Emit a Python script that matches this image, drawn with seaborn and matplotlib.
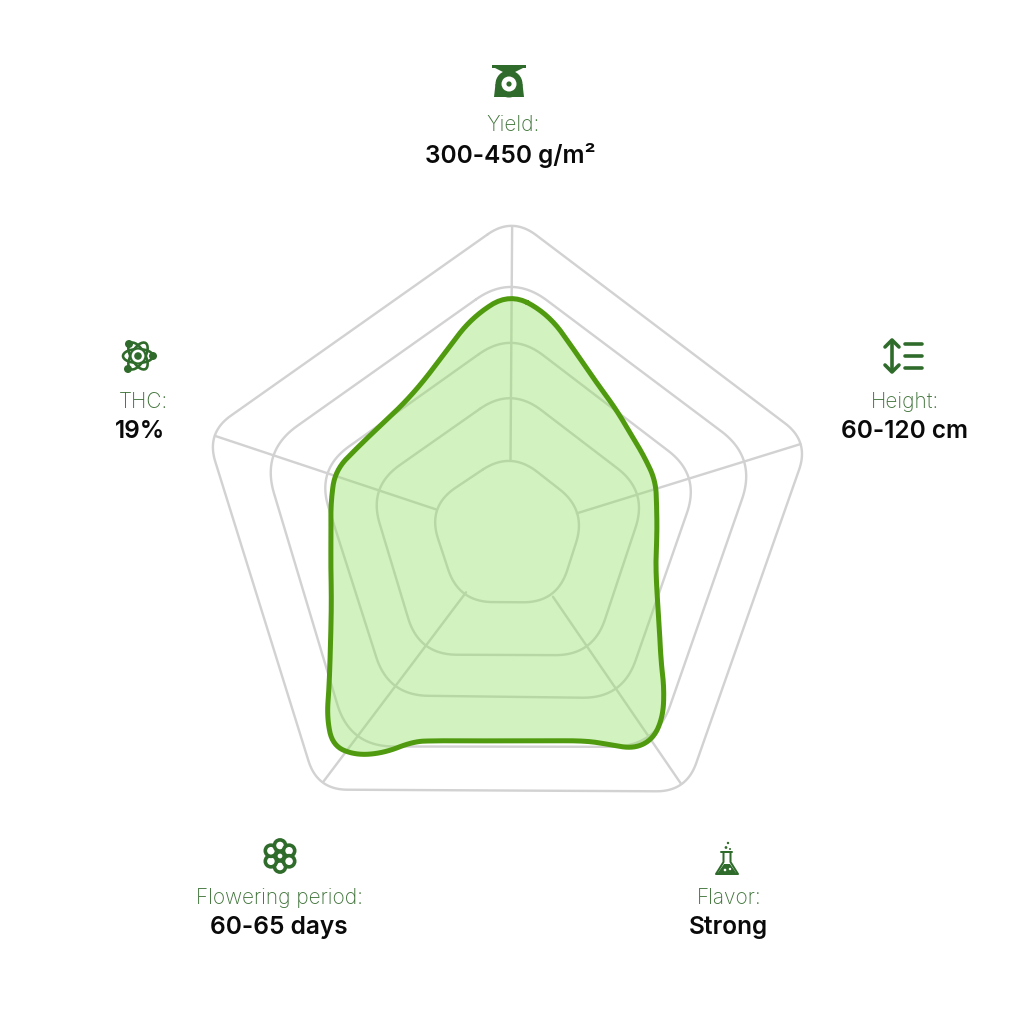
import numpy as np
import matplotlib
matplotlib.use("Agg")
import matplotlib.pyplot as plt
import seaborn as sns
from matplotlib.patches import Circle, Ellipse, Polygon, Rectangle

# axes of the radar, clockwise from the top
categories = ["Yield:", "Height:", "Flavor:", "Flowering period:", "THC:"]
values = ["300-450 g/m²", "60-120 cm", "Strong", "60-65 days", "19%"]
axis_angles = [0.4, 72.8, 145.6, 217.0, 288.4]

# ring corners per axis, outer to inner
ring_1 = [317, 313, 312, 320, 320]
ring_2 = [260, 258, 258, 266, 262]
ring_3 = [203, 199, 199, 202, 204]
ring_4 = [147, 144, 147, 151, 149]
ring_5 = [83, 80, 83, 85, 87]
spoke_inner = [73, 70, 76, 73, 78]
spoke_outer = [307, 304, 302, 310, 311]

# outline of the strain, radius read clockwise from the top
series_theta = [0, 10, 20, 30, 40, 50, 60, 70, 80, 90, 100, 110, 120, 130, 135, 140,
                145, 150, 155, 160, 170, 180, 190, 200, 205, 210, 215, 220, 225, 230,
                240, 250, 260, 270, 280, 290, 300, 310, 320, 330, 340, 350]
series_radius = [241, 223, 193, 174, 164, 157, 155, 155, 149, 147, 148, 156, 172, 197,
                 218, 238, 250, 248, 232, 220, 210, 207, 210, 220, 229, 253, 270, 276,
                 259, 236, 207, 190, 182, 179, 182, 186, 175, 169, 168, 175, 192, 220]

CX, CY = 510, 535
GRID = "#d2d2d2"
LINE = "#4f9a0e"
FILL = "#8fdf5f"
ICON = "#2f6b2a"
LABEL = "#3f7339"

label_pos = [(513, 125), (905, 402), (729, 898), (280, 898), (143, 402)]
value_pos = [(510, 155), (905, 432), (728, 928), (279, 928), (140, 432)]
ring_fillets = [30, 44, 40, 38, 34]


def to_xy(theta, r):
    t = np.radians(theta)
    return CX + np.asarray(r) * np.sin(t), CY - np.asarray(r) * np.cos(t)


def rounded(theta, r, d=32, n=24):
    # pentagon with quadratic corners
    x, y = to_xy(np.array(theta), np.array(r))
    pts = np.column_stack([x, y])
    out = []
    k = len(pts)
    s = np.linspace(0, 1, n)[:, None]
    for i in range(k):
        p, a, b = pts[i], pts[i - 1], pts[(i + 1) % k]
        p0 = p + (a - p) / np.linalg.norm(a - p) * d
        p2 = p + (b - p) / np.linalg.norm(b - p) * d
        out.append((1 - s) ** 2 * p0 + 2 * s * (1 - s) * p + s ** 2 * p2)
    out = np.vstack(out)
    return np.vstack([out, out[0]])


def chaikin(pts, rounds=3):
    for _ in range(rounds):
        nxt = np.roll(pts, -1, axis=0)
        pts = np.column_stack([0.75 * pts + 0.25 * nxt, 0.25 * pts + 0.75 * nxt]).reshape(-1, 2)
    return pts


sns.set_theme(style="white")
plt.rcParams["font.family"] = ["Inter", "DejaVu Sans"]

fig = plt.figure(figsize=(10.2, 10.2), dpi=100)
ax = fig.add_axes([0, 0, 1, 1])
ax.set_xlim(0, 1020)
ax.set_ylim(1020, 0)
ax.axis("off")

px = 0.72  # line width of one pixel

for ring, fillet in zip([ring_1, ring_2, ring_3, ring_4, ring_5], ring_fillets):
    pts = rounded(axis_angles, ring, d=fillet)
    sns.lineplot(x=pts[:, 0], y=pts[:, 1], sort=False, estimator=None, color=GRID,
                 linewidth=2.4 * px, ax=ax, legend=False)

for ang, r0, r1 in zip(axis_angles, spoke_inner, spoke_outer):
    xs, ys = to_xy(ang, [r0, r1])
    sns.lineplot(x=xs, y=ys, sort=False, estimator=None, color=GRID,
                 linewidth=2.4 * px, ax=ax, legend=False)

sx, sy = to_xy(np.array(series_theta, dtype=float), np.array(series_radius, dtype=float))
outline = chaikin(np.column_stack([sx, sy]))
outline = np.vstack([outline, outline[0]])
ax.fill(outline[:, 0], outline[:, 1], color=FILL, alpha=0.4, linewidth=0, zorder=3)
sns.lineplot(x=outline[:, 0], y=outline[:, 1], sort=False, estimator=None, color=LINE,
             linewidth=5 * px, ax=ax, legend=False, zorder=4)

for name, val, lp, vp in zip(categories, values, label_pos, value_pos):
    ax.text(lp[0], lp[1], name, color=LABEL, fontsize=15, fontweight="light", ha="center", va="center")
    ax.text(vp[0], vp[1], val, color="#0a0a0a", fontsize=17.6, fontweight="semibold",
            ha="center", va="center")


# icons
def icon_scale(cx, cy):
    ax.add_patch(Rectangle((cx - 17, cy - 17), 34, 2.5, color=ICON, lw=0))
    ax.add_patch(Polygon([(cx - 14, cy - 14), (cx + 14, cy - 14), (cx + 6, cy - 10), (cx - 6, cy - 10)],
                         color=ICON, lw=0))
    ax.add_patch(Circle((cx, cy + 2), 13.5, color=ICON, lw=0))
    ax.add_patch(Polygon([(cx - 13.5, cy + 2), (cx + 13.5, cy + 2), (cx + 15, cy + 15), (cx - 15, cy + 15)],
                         color=ICON, lw=0))
    ax.add_patch(Circle((cx, cy + 2), 7.5, color="white", lw=0))
    ax.add_patch(Circle((cx, cy + 2), 2.6, color=ICON, lw=0))


def icon_height(cx, cy):
    ax.plot([cx - 11, cx - 11], [cy - 15, cy + 15], color=ICON, lw=3.6 * px)
    for sign in (-1, 1):
        ax.plot([cx - 18, cx - 11, cx - 4], [cy + sign * 9, cy + sign * 16, cy + sign * 9],
                color=ICON, lw=3.6 * px, solid_capstyle="round", solid_joinstyle="round")
    for dy in (-12, 0, 12):
        ax.plot([cx + 2, cx + 19], [cy + dy, cy + dy], color=ICON, lw=3.6 * px,
                solid_capstyle="round")


def icon_atom(cx, cy):
    for ang in (0, 60, 120):
        ax.add_patch(Ellipse((cx, cy), 30, 14, angle=ang, fill=False, ec=ICON, lw=2.6 * px))
    ax.add_patch(Circle((cx, cy), 7.5, fc="white", ec=ICON, lw=2.2 * px))
    ax.add_patch(Circle((cx, cy), 3.8, color=ICON, lw=0))
    for dx, dy in ((-9, -12), (15, 0), (-10, 13)):
        ax.add_patch(Circle((cx + dx, cy + dy), 4, color=ICON, lw=0))


def icon_flower(cx, cy):
    for k in range(6):
        t = np.radians(60 * k + 90)
        ax.add_patch(Circle((cx + 10.5 * np.cos(t), cy + 10.5 * np.sin(t)), 5.6,
                            fc="white", ec=ICON, lw=3.6 * px))
    ax.add_patch(Circle((cx, cy), 5.5, fc=ICON, lw=0))
    ax.add_patch(Circle((cx, cy), 3, fc="white", ec=ICON, lw=1.2 * px))


def icon_flask(cx, cy):
    ax.add_patch(Polygon([(cx - 3.5, cy - 9), (cx + 3.5, cy - 9), (cx + 3.5, cy + 1), (cx + 11, cy + 13),
                          (cx - 11, cy + 13), (cx - 3.5, cy + 1)], fill=False, ec=ICON,
                         lw=2 * px, joinstyle="round"))
    ax.add_patch(Polygon([(cx - 3, cy + 3), (cx + 3, cy + 3), (cx + 10, cy + 13), (cx - 10, cy + 13)],
                         color=ICON, lw=0))
    ax.plot([cx - 5.5, cx + 5.5], [cy - 9, cy - 9], color=ICON, lw=2 * px)
    for dx, dy, r in ((1, -18, 1.2), (-1, -13.5, 1.4), (3, -12, 1)):
        ax.add_patch(Circle((cx + dx, cy + dy), r, color=ICON, lw=0))
    for dx, dy, r in ((-2, 9, 1.3), (3, 8, 1.2)):
        ax.add_patch(Circle((cx + dx, cy + dy), r, color="white", lw=0))


icon_scale(509, 83)
icon_height(903, 357)
icon_atom(138, 357)
icon_flower(280, 857)
icon_flask(727, 862)

fig.savefig("out.png", dpi=100, facecolor="white")
